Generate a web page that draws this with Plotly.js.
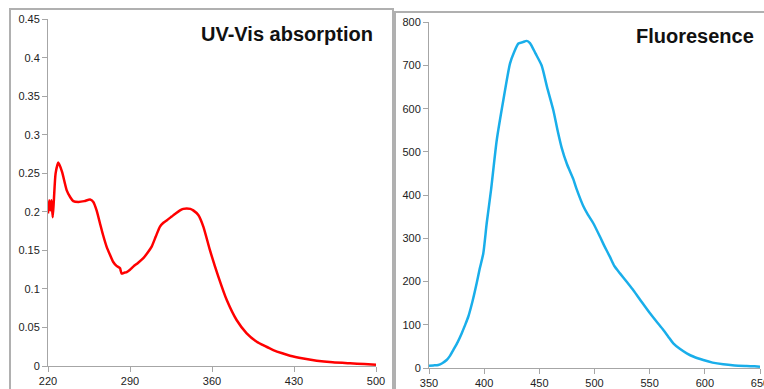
<!DOCTYPE html>
<html>
<head>
<meta charset="utf-8">
<script src="https://cdn.plot.ly/plotly-3.0.1.min.js"></script>
<style>html,body{margin:0;padding:0;background:#fff;}#chart{width:764px;height:389px;}</style>
</head>
<body>
<div id="chart"></div>
<script>
// UV-Vis absorption spectrum
const uvWavelength = [220, 221, 222, 223, 224, 225, 226.5, 228.8, 232, 236, 239, 241.6, 246, 251, 255.9, 258.7, 261.5, 264.4, 267, 270, 273, 275.7, 278.5, 281.5, 282, 282.9, 285, 287.2, 290, 292.8, 297, 301.4, 305, 308.5, 312, 315.6, 318.5, 321.3, 325.6, 329, 332.7, 335.5, 338.4, 341.5, 344, 348.3, 352.6, 358.3, 365.4, 372.6, 381, 389.6, 398.2, 405, 412.3, 420, 426.6, 438, 449.4, 463, 477.8, 490, 500];
const uvAbsorbance = [0.198, 0.215, 0.202, 0.215, 0.193, 0.215, 0.250, 0.264, 0.252, 0.228, 0.219, 0.214, 0.213, 0.214, 0.216, 0.213, 0.202, 0.185, 0.170, 0.155, 0.144, 0.135, 0.130, 0.127, 0.124, 0.120, 0.121, 0.122, 0.125, 0.129, 0.134, 0.140, 0.147, 0.155, 0.168, 0.181, 0.186, 0.189, 0.194, 0.198, 0.202, 0.204, 0.2045, 0.204, 0.202, 0.196, 0.181, 0.150, 0.116, 0.0856, 0.0597, 0.0424, 0.0315, 0.026, 0.0207, 0.0165, 0.0134, 0.0098, 0.0069, 0.0048, 0.0035, 0.0025, 0.0017];

// Fluorescence emission spectrum
const flWavelength = [350, 354, 358.4, 362, 366, 369, 372, 376, 379.6, 382.5, 385.6, 389.5, 393.2, 396, 399.2, 402.3, 406.2, 411.4, 417.4, 423.4, 427, 431, 435, 438.5, 441.5, 446.5, 452.1, 457, 462.7, 466.5, 470.2, 475, 480.8, 483.8, 489.8, 494, 498.9, 505, 509, 514, 518, 523.1, 529, 535.2, 543, 550.3, 556, 562.4, 567, 571.4, 577, 583.6, 590, 598.6, 607, 616.7, 627, 637.9, 645, 650];
const flIntensity = [5.4, 6, 7, 11, 18.5, 28, 41.6, 60, 80, 98, 118.6, 155, 196, 230, 265, 335, 411.6, 527, 620, 704.5, 730, 750.8, 754, 757, 752, 728, 700, 650, 596.5, 550, 510, 472, 437, 414, 375, 355, 335, 303.6, 282, 257, 236, 219, 200, 180, 152, 126.5, 108, 88, 72, 57, 45, 34, 26, 18.5, 12.5, 8.5, 6, 4.6, 3.8, 3];

const uvTicks = [220, 290, 360, 430, 500];
const flTicks = [350, 400, 450, 500, 550, 600, 650];

const W = 764, H = 389;
const px = v => v / W;
const py = v => (H - v) / H;

const axisCommon = {
  showgrid: false, zeroline: false, showline: true,
  linecolor: '#a6a6a6', linewidth: 1,
  ticks: 'outside', ticklen: 5, tickcolor: '#a6a6a6', tickwidth: 1,
  tickfont: {family: 'Liberation Sans, Arial, sans-serif', size: 11, color: '#222'},
  ticklabeloverflow: 'allow',
  fixedrange: true
};

const traces = [
  {x: uvWavelength, y: uvAbsorbance, type: 'scatter', mode: 'lines',
   line: {color: '#ff0000', width: 2.5, shape: 'spline', smoothing: 0.6}, xaxis: 'x', yaxis: 'y'},
  {x: flWavelength, y: flIntensity, type: 'scatter', mode: 'lines',
   line: {color: '#19aeea', width: 2.5, shape: 'spline', smoothing: 0.6}, xaxis: 'x2', yaxis: 'y2'}
];

const layout = {
  width: W, height: H,
  margin: {l: 0, r: 0, t: 0, b: 0},
  paper_bgcolor: '#fff', plot_bgcolor: 'rgba(0,0,0,0)',
  showlegend: false,
  xaxis: Object.assign({}, axisCommon, {domain: [px(48), px(376)], range: [220, 500], tickvals: uvTicks, anchor: 'y'}),
  yaxis: Object.assign({}, axisCommon, {domain: [py(366), py(19.3)], range: [0, 0.45], dtick: 0.05, anchor: 'x'}),
  xaxis2: Object.assign({}, axisCommon, {domain: [px(429), px(760)], range: [350, 650], tickvals: flTicks, anchor: 'y2'}),
  yaxis2: Object.assign({}, axisCommon, {domain: [py(368), py(22.3)], range: [0, 800], dtick: 100, anchor: 'x2'}),
  shapes: [
    {type: 'rect', xref: 'paper', yref: 'paper', x0: px(10), x1: px(393), y0: py(395), y1: py(9),
     line: {color: '#b0b0b0', width: 2}, fillcolor: 'rgba(0,0,0,0)', layer: 'below'},
    {type: 'rect', xref: 'paper', yref: 'paper', x0: px(395), x1: px(775), y0: py(395), y1: py(12),
     line: {color: '#b0b0b0', width: 2}, fillcolor: 'rgba(0,0,0,0)', layer: 'below'}
  ],
  annotations: [
    {text: '<b>UV-Vis absorption</b>', xref: 'paper', yref: 'paper', x: px(375), y: py(34),
     xanchor: 'right', yanchor: 'middle', showarrow: false,
     font: {family: 'Liberation Sans, Arial, sans-serif', size: 20, color: '#111'}},
    {text: '<b>Fluoresence</b>', xref: 'paper', yref: 'paper', x: px(756), y: py(36),
     xanchor: 'right', yanchor: 'middle', showarrow: false,
     font: {family: 'Liberation Sans, Arial, sans-serif', size: 20, color: '#111'}}
  ]
};

Plotly.newPlot('chart', traces, layout, {displayModeBar: false, staticPlot: true});
</script>
</body>
</html>
